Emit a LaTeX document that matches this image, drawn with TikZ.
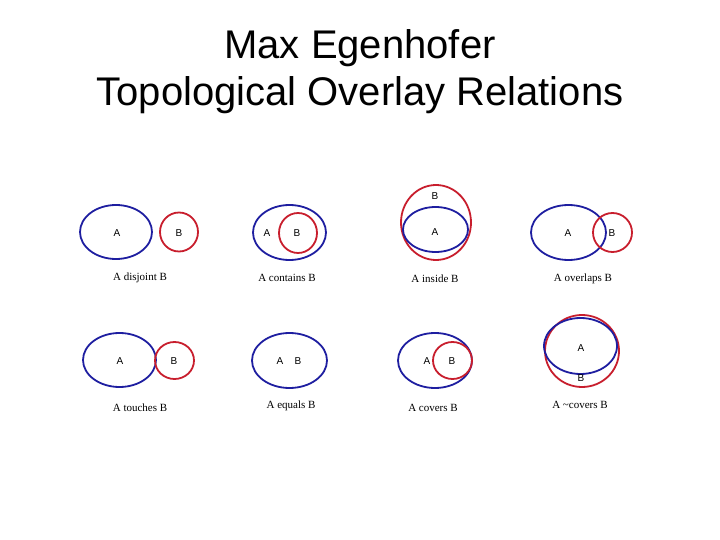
\documentclass[tikz,border=0pt]{standalone}
\usepackage{fontspec}
\setmainfont{Liberation Serif}
\setsansfont{Liberation Sans}
\usetikzlibrary{shapes.geometric, positioning}
\definecolor{setblue}{RGB}{30,30,160}
\definecolor{setred}{RGB}{200,30,45}

\begin{document}
\begin{tikzpicture}[
    x=1pt, y=-1pt,
    rega/.style={ellipse, draw=setblue, line width=1.8pt, inner sep=0pt, outer sep=0pt},
    regb/.style={ellipse, draw=setred, line width=1.8pt, inner sep=0pt, outer sep=0pt},
    tag/.style={font=\sffamily\fontsize{10}{12}\selectfont, inner sep=0pt},
    caption/.style={font=\fontsize{11}{13}\selectfont, inner sep=0pt},
    title/.style={font=\sffamily\fontsize{40}{47}\selectfont, align=center}
]
    \useasboundingbox (0,0) rectangle (720,540);
    \node [title] (head) at (360,72) {Max Egenhofer\\Topological Overlay Relations};

    \node [rega, minimum width=72pt, minimum height=54pt] (disjA) at (116,232) {};
    \node [regb, minimum width=38pt, minimum height=39pt] (disjB) at (179,232) {};
    \node [tag] at (117,233) {A};
    \node [tag] at (179,233) {B};
    \node [caption] (disj) at (140,278) {A disjoint B};

    \node [rega, minimum width=73pt, minimum height=55pt] (contA) at (289.5,232.5) {};
    \node [regb, minimum width=38pt, minimum height=40pt] (contB) at (298,233) {};
    \node [tag] at (267,233) {A};
    \node [tag] at (297,233) {B};
    \node [caption] (cont) at (287,278) {A contains B};

    \node [regb, minimum width=70pt, minimum height=75pt] (insB) at (436,222.5) {};
    \node [rega, minimum width=65pt, minimum height=45pt] (insA) at (435.5,229.5) {};
    \node [tag] at (435,196) {B};
    \node [tag] at (435,232) {A};
    \node [caption] (ins) at (435,279) {A inside B};

    \node [rega, minimum width=75pt, minimum height=55pt] (overA) at (568.5,232.5) {};
    \node [regb, minimum width=39pt, minimum height=39pt] (overB) at (612.5,232.5) {};
    \node [tag] at (568,233) {A};
    \node [tag] at (612,233) {B};
    \node [caption] (over) at (583,279) {A overlaps B};

    \node [rega, minimum width=73pt, minimum height=54pt] (touchA) at (119.5,360) {};
    \node [regb, minimum width=39pt, minimum height=37pt] (touchB) at (174.5,360.5) {};
    \node [tag] at (120,361) {A};
    \node [tag] at (174,361) {B};
    \node [caption] (touch) at (140,408) {A touches B};

    \node [rega, minimum width=75pt, minimum height=55pt] (eqA) at (289.5,360.5) {};
    \node [tag] at (280,361) {A};
    \node [tag] at (298,361) {B};
    \node [caption] (eq) at (291,406) {A equals B};

    \node [rega, minimum width=74pt, minimum height=55pt] (covA) at (435,360.5) {};
    \node [regb, minimum width=39pt, minimum height=37pt] (covB) at (452.5,360.5) {};
    \node [tag] at (427,361) {A};
    \node [tag] at (452,361) {B};
    \node [caption] (cov) at (433,408) {A covers B};

    \node [regb, minimum width=74pt, minimum height=72pt] (ncovB) at (582,351) {};
    \node [rega, minimum width=73pt, minimum height=56pt] (ncovA) at (580.5,346) {};
    \node [tag] at (581,348) {A};
    \node [tag] at (581,378) {B};
    \node [caption] (ncov) at (580,405) {A \textasciitilde covers B};
\end{tikzpicture}
\end{document}
